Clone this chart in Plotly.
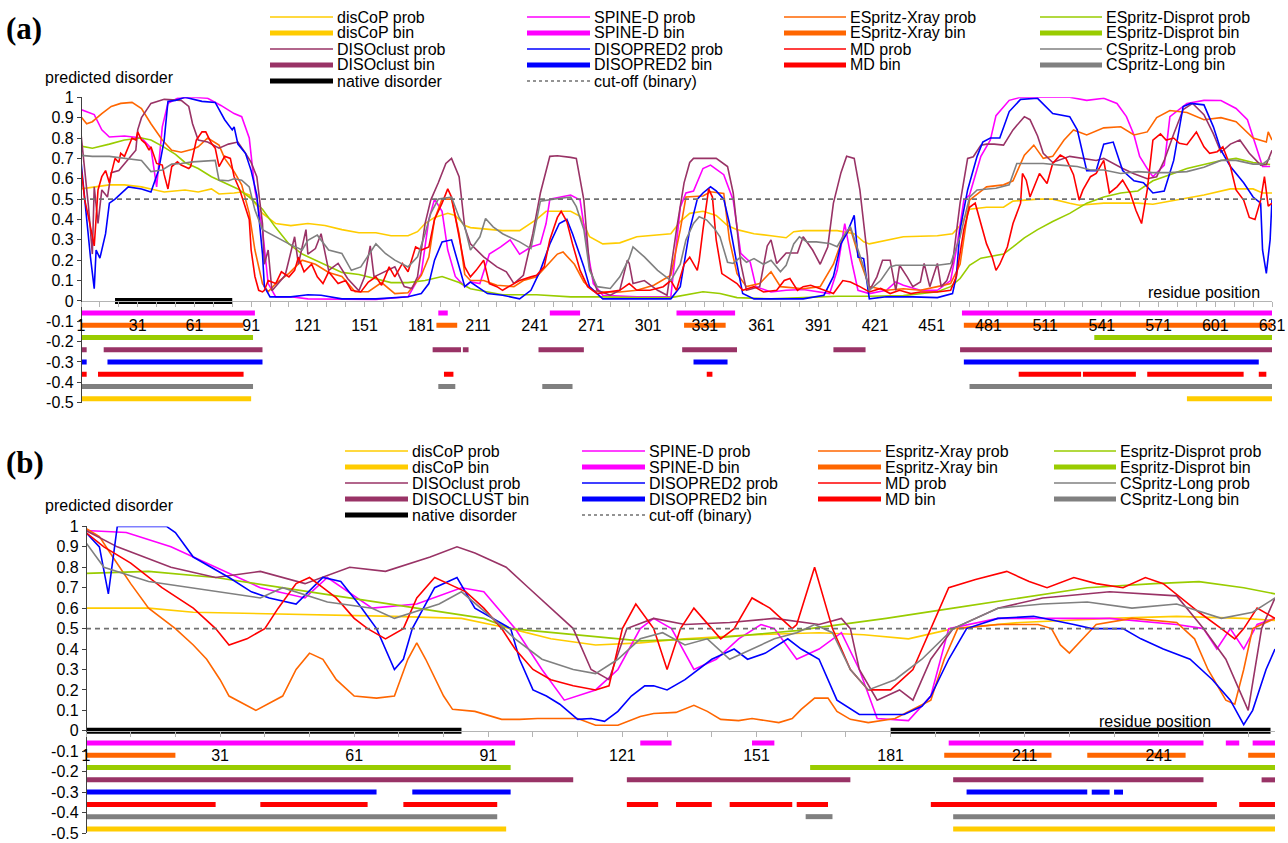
import plotly.graph_objects as go

W, H = 1288, 843
FONT = "Liberation Sans, Arial, sans-serif"

# ---------------- Panel (a) probability series ----------------
A_DISCOP_X = [1,16,24,33,38,45,56,63,70,74,82,86,90,97,104,112,121,130,139,148,157,165,174,179,183,188,195,199,204,
              207,224,233,242,247,260,265,270,277,286,295,313,318,323,330,337,343,348,357,366,374,378,383,401,410,415,
              418,436,454,462,466,471,480,489,494,507,515,524,529,542,560,568,577,595,609,621,626,631]
A_DISCOP_Y = [0.55,0.57,0.57,0.56,0.55,0.535,0.545,0.535,0.55,0.525,0.53,0.535,0.52,0.43,0.38,0.37,0.38,0.37,0.35,0.335,0.335,0.32,0.32,0.34,0.38,0.41,0.43,0.42,0.37,
              0.36,0.345,0.345,0.40,0.44,0.44,0.415,0.315,0.28,0.285,0.315,0.33,0.39,0.43,0.44,0.42,0.37,0.35,0.33,0.32,0.31,0.34,0.345,0.345,0.33,0.29,
              0.28,0.315,0.32,0.33,0.37,0.45,0.46,0.46,0.49,0.50,0.50,0.48,0.47,0.48,0.48,0.475,0.49,0.52,0.55,0.55,0.53,0.53]

A_DISPROT_X = [1,7,16,24,33,38,44,51,56,63,70,77,84,90,97,104,111,118,125,132,139,148,157,165,174,183,192,201,
               207,224,242,260,277,295,313,321,330,339,348,366,383,401,
               418,436,454,461,466,471,477,484,489,494,500,507,515,524,533,542,551,560,568,577,586,595,604,612,621,630]
A_DISPROT_Y = [0.76,0.75,0.77,0.79,0.80,0.79,0.76,0.72,0.68,0.65,0.61,0.58,0.55,0.51,0.45,0.36,0.28,0.23,0.20,0.17,0.14,0.13,0.11,0.09,0.09,0.10,0.12,0.09,
               0.06,0.03,0.03,0.02,0.02,0.016,0.016,0.03,0.045,0.036,0.016,0.01,0.016,0.023,
               0.023,0.026,0.045,0.07,0.11,0.175,0.21,0.22,0.23,0.265,0.31,0.35,0.39,0.43,0.48,0.51,0.53,0.54,0.59,0.62,0.65,0.67,0.69,0.70,0.68,0.67]

A_XRAY_X = [1,4,7,12,17,22,28,33,38,44,49,54,60,63,68,74,77,82,86,90,93,97,100,104,111,118,125,132,139,146,153,160,167,174,181,185,188,192,197,201,204,
            207,214,221,230,235,242,247,253,256,262,267,272,277,286,295,304,313,318,321,330,334,341,344,348,353,360,366,371,383,392,399,404,408,413,
            418,427,436,445,454,461,466,471,480,489,494,500,505,510,515,521,526,533,542,551,558,565,570,577,586,595,604,612,621,628,629,631]
A_XRAY_Y = [0.905,0.87,0.88,0.92,0.955,0.97,0.975,0.945,0.87,0.79,0.74,0.73,0.745,0.757,0.80,0.765,0.70,0.635,0.57,0.43,0.25,0.085,0.045,0.085,0.135,0.20,0.18,0.14,0.12,0.045,0.045,0.09,0.036,0.04,0.125,0.215,0.40,0.50,0.50,0.33,0.13,
            0.10,0.10,0.077,0.07,0.10,0.118,0.167,0.23,0.24,0.18,0.093,0.05,0.044,0.044,0.052,0.077,0.126,0.35,0.51,0.515,0.536,0.528,0.30,0.134,0.07,0.085,0.143,0.07,0.06,0.07,0.18,0.31,0.355,0.20,
            0.07,0.052,0.06,0.052,0.07,0.085,0.18,0.495,0.56,0.57,0.59,0.716,0.765,0.70,0.71,0.79,0.84,0.815,0.85,0.855,0.815,0.83,0.90,0.935,0.925,0.89,0.90,0.88,0.80,0.78,0.83,0.79]

A_SPINED_X = [1,8,12,16,24,33,38,41,44,47,52,60,68,75,82,86,90,93,97,100,104,112,121,139,157,174,181,185,188,192,195,199,204,
              207,212,217,223,228,233,239,244,247,249,260,265,269,272,277,295,313,318,321,325,330,334,341,346,350,355,358,366,374,383,397,401,405,409,412,
              418,427,432,436,445,454,461,464,468,471,477,482,485,492,498,507,524,533,542,549,554,558,561,565,568,574,577,586,595,604,612,618,623,626,630]
A_SPINED_Y = [0.94,0.915,0.84,0.805,0.81,0.80,0.75,0.56,0.855,0.97,0.995,1.0,0.995,0.96,0.92,0.905,0.80,0.545,0.35,0.085,0.02,0.02,0.01,0.007,0.007,0.02,0.135,0.40,0.50,0.44,0.25,0.12,0.07,
              0.093,0.085,0.23,0.265,0.30,0.23,0.265,0.28,0.38,0.50,0.52,0.495,0.25,0.085,0.028,0.02,0.02,0.46,0.53,0.54,0.65,0.667,0.62,0.495,0.233,0.19,0.07,0.044,0.052,0.056,0.036,0.15,0.38,0.18,0.052,
              0.036,0.052,0.093,0.077,0.052,0.052,0.10,0.25,0.495,0.52,0.71,0.79,0.91,0.985,1.0,1.0,1.0,0.985,0.995,0.97,0.905,0.815,0.71,0.65,0.61,0.667,0.905,0.97,0.985,0.984,0.945,0.89,0.75,0.66,0.66]

A_DISOCLUST_X = [1,3,5,7,8,10,12,15,17,21,24,30,31,33,38,45,54,58,60,63,68,74,79,84,88,91,94,97,98,100,102,105,109,114,116,120,121,125,128,132,137,142,148,151,154,156,162,167,172,176,179,183,186,190,194,197,201,204,
                 207,214,221,226,230,235,240,244,249,253,260,263,267,270,274,281,286,290,291,293,299,306,311,316,320,323,325,337,343,346,350,353,360,364,366,369,374,380,383,388,392,396,399,403,406,410,413,417,
                 418,422,425,429,432,434,438,441,445,447,450,454,456,459,462,466,470,473,477,480,484,489,494,500,503,507,510,515,524,531,538,542,547,552,558,565,570,574,579,584,589,595,600,604,609,614,619,625,628,631]
A_DISOCLUST_Y = [0.82,0.63,0.46,0.23,0.56,0.38,0.545,0.51,0.63,0.64,0.675,0.74,0.84,0.90,0.97,0.99,0.985,0.955,0.87,0.79,0.78,0.75,0.77,0.78,0.725,0.68,0.61,0.38,0.18,0.25,0.05,0.085,0.126,0.315,0.18,0.35,0.23,0.257,0.33,0.15,0.184,0.11,0.05,0.118,0.27,0.118,0.143,0.167,0.07,0.061,0.118,0.38,0.495,0.58,0.675,0.70,0.61,0.36,
                 0.28,0.216,0.167,0.143,0.085,0.126,0.33,0.53,0.71,0.713,0.705,0.70,0.495,0.167,0.052,0.028,0.052,0.20,0.184,0.085,0.10,0.052,0.028,0.35,0.58,0.68,0.70,0.70,0.66,0.53,0.184,0.052,0.07,0.27,0.30,0.184,0.235,0.235,0.315,0.25,0.18,0.265,0.48,0.63,0.71,0.70,0.545,0.22,
                 0.05,0.118,0.20,0.20,0.052,0.175,0.118,0.07,0.093,0.184,0.07,0.184,0.07,0.10,0.184,0.48,0.70,0.708,0.765,0.77,0.77,0.765,0.84,0.905,0.89,0.81,0.725,0.68,0.71,0.70,0.69,0.70,0.675,0.65,0.625,0.60,0.61,0.69,0.82,0.94,0.97,0.915,0.82,0.73,0.77,0.79,0.725,0.667,0.67,0.74]

A_DISOPRED_X = [1,3,6,8,9,11,14,16,19,26,33,38,42,45,47,51,56,65,72,77,81,82,84,88,91,94,97,98,101,112,121,128,139,157,174,181,185,188,192,197,201,204,
                207,216,224,233,239,244,249,254,258,261,267,270,277,313,318,323,327,330,334,337,341,344,348,351,357,383,394,399,403,406,410,412,415,
                418,427,441,454,462,464,466,470,475,478,482,487,492,498,507,515,524,528,533,538,542,547,552,558,563,568,574,579,584,588,595,600,604,609,616,621,625,626,628,630,631]
A_DISOPRED_Y = [0.685,0.495,0.215,0.06,0.25,0.21,0.33,0.48,0.50,0.56,0.55,0.535,0.64,0.79,0.98,0.985,1.0,0.98,0.975,0.89,0.84,0.855,0.77,0.725,0.64,0.52,0.23,0.07,0.02,0.02,0.03,0.028,0.01,0.01,0.02,0.036,0.085,0.20,0.29,0.30,0.167,0.07,
                0.093,0.036,0.028,0.01,0.052,0.15,0.28,0.38,0.40,0.33,0.167,0.07,0.01,0.01,0.07,0.35,0.50,0.53,0.56,0.54,0.50,0.38,0.18,0.036,0.01,0.01,0.028,0.12,0.28,0.33,0.42,0.215,0.208,
                0.01,0.02,0.02,0.016,0.036,0.12,0.35,0.545,0.71,0.78,0.80,0.80,0.93,0.99,0.995,0.92,0.905,0.84,0.64,0.64,0.77,0.78,0.64,0.59,0.58,0.53,0.54,0.69,0.955,0.97,0.963,0.855,0.74,0.66,0.58,0.51,0.48,0.25,0.135,0.30,0.50]

A_MD_X = [1,3,5,7,8,10,12,14,16,17,19,21,22,24,26,28,30,31,33,35,37,38,41,44,45,47,49,52,54,58,59,62,65,67,70,72,74,77,80,82,85,88,90,91,93,95,97,98,100,104,107,111,114,116,119,123,126,129,132,137,141,144,149,153,157,160,164,167,171,174,178,181,185,188,192,195,197,201,204,
          207,210,214,217,221,224,230,233,239,242,246,249,253,255,258,261,265,269,274,286,291,295,302,309,313,316,320,323,327,328,330,333,335,337,340,344,348,351,357,362,369,373,376,380,383,387,394,399,404,408,413,417,
          418,424,429,434,440,445,454,461,464,468,471,474,477,480,483,485,487,491,494,498,499,501,503,505,508,512,515,519,522,526,529,531,535,538,542,545,549,552,556,559,562,565,568,572,575,579,582,586,591,595,598,602,605,609,612,616,619,622,625,627,629,631]
A_MD_Y = [0.66,0.495,0.41,0.315,0.27,0.545,0.61,0.64,0.58,0.625,0.70,0.68,0.725,0.71,0.757,0.80,0.79,0.83,0.79,0.774,0.74,0.757,0.675,0.667,0.62,0.55,0.66,0.683,0.667,0.65,0.66,0.79,0.83,0.83,0.774,0.75,0.66,0.71,0.70,0.61,0.545,0.46,0.40,0.25,0.12,0.052,0.044,0.052,0.10,0.085,0.143,0.118,0.15,0.215,0.143,0.18,0.118,0.085,0.143,0.085,0.10,0.052,0.044,0.093,0.118,0.077,0.167,0.118,0.184,0.143,0.265,0.25,0.265,0.40,0.48,0.55,0.51,0.315,0.167,
          0.118,0.15,0.20,0.085,0.07,0.052,0.085,0.10,0.118,0.126,0.167,0.30,0.41,0.44,0.39,0.28,0.15,0.07,0.036,0.052,0.085,0.052,0.052,0.07,0.10,0.052,0.18,0.215,0.15,0.20,0.35,0.55,0.51,0.30,0.134,0.11,0.085,0.052,0.07,0.044,0.052,0.10,0.11,0.052,0.07,0.077,0.052,0.036,0.10,0.093,0.07,0.052,
          0.044,0.061,0.036,0.052,0.036,0.044,0.044,0.052,0.118,0.35,0.46,0.48,0.38,0.28,0.215,0.15,0.18,0.265,0.38,0.48,0.626,0.593,0.51,0.56,0.626,0.577,0.675,0.716,0.70,0.62,0.495,0.545,0.61,0.626,0.69,0.53,0.56,0.593,0.53,0.445,0.38,0.545,0.79,0.82,0.79,0.80,0.774,0.767,0.83,0.757,0.725,0.733,0.757,0.66,0.545,0.495,0.41,0.40,0.495,0.61,0.465,0.48]

A_CSPRITZ_X = [1,7,16,24,33,38,44,49,54,60,68,72,74,79,82,86,90,93,97,104,111,118,121,126,132,139,144,149,157,162,167,174,179,183,186,190,197,201,204,
               207,212,215,219,224,233,239,244,251,260,263,267,270,274,281,286,291,293,299,306,313,318,321,325,328,332,336,339,343,346,350,353,357,362,366,371,374,378,381,385,390,397,401,404,408,411,415,
               418,424,429,432,441,454,461,466,471,475,485,492,496,501,510,519,528,535,542,551,560,568,577,586,595,604,612,621,626,630]
A_CSPRITZ_Y = [0.715,0.71,0.71,0.70,0.69,0.635,0.643,0.672,0.675,0.683,0.69,0.69,0.593,0.59,0.60,0.593,0.56,0.446,0.35,0.315,0.28,0.25,0.298,0.323,0.25,0.233,0.15,0.167,0.28,0.233,0.20,0.167,0.216,0.33,0.43,0.50,0.51,0.41,0.364,
               0.25,0.315,0.405,0.364,0.33,0.29,0.257,0.49,0.50,0.51,0.463,0.35,0.15,0.07,0.061,0.118,0.21,0.265,0.216,0.15,0.10,0.18,0.30,0.38,0.413,0.397,0.356,0.315,0.19,0.184,0.216,0.19,0.208,0.18,0.20,0.143,0.175,0.28,0.315,0.29,0.29,0.282,0.266,0.315,0.364,0.28,0.167,
               0.052,0.10,0.167,0.175,0.175,0.175,0.184,0.315,0.51,0.545,0.553,0.57,0.675,0.675,0.675,0.667,0.66,0.643,0.643,0.626,0.635,0.63,0.63,0.635,0.656,0.69,0.69,0.672,0.672,0.70]

# ---------------- Panel (b) probability series ----------------
B_DISCOP_X = [1,15,25,50,70,85,96,105,115,125,135,150,165,175,185,195,210,230,245,260,267]
B_DISCOP_Y = [0.60,0.60,0.58,0.57,0.56,0.55,0.50,0.45,0.42,0.43,0.45,0.47,0.48,0.47,0.45,0.50,0.53,0.55,0.56,0.55,0.54]
B_DISPROT_X = [1,15,30,45,60,75,90,96,110,125,140,150,160,163,180,195,210,225,240,250,260,267]
B_DISPROT_Y = [0.77,0.78,0.75,0.70,0.65,0.60,0.55,0.50,0.47,0.44,0.45,0.47,0.49,0.50,0.55,0.60,0.65,0.70,0.72,0.73,0.70,0.67]
B_XRAY_X = [1,4,7,11,15,21,25,28,31,33,39,45,48,51,54,57,61,66,70,73,75,77,81,83,88,94,98,102,111,115,120,125,128,133,137,140,143,147,150,154,156,159,161,164,167,169,172,176,182,190,193,196,205,214,217,219,221,224,227,235,245,249,252,256,258,260,262,267]
B_XRAY_Y = [0.99,0.95,0.85,0.72,0.60,0.50,0.42,0.35,0.25,0.17,0.10,0.17,0.30,0.38,0.35,0.25,0.17,0.16,0.17,0.35,0.43,0.35,0.17,0.105,0.095,0.056,0.056,0.06,0.06,0.027,0.027,0.07,0.085,0.09,0.125,0.095,0.056,0.05,0.06,0.046,0.04,0.06,0.105,0.16,0.16,0.095,0.056,0.04,0.06,0.15,0.35,0.50,0.52,0.52,0.50,0.42,0.38,0.45,0.52,0.55,0.53,0.45,0.30,0.15,0.13,0.30,0.50,0.55]
B_SPINED_X = [1,10,20,30,40,50,55,65,75,85,90,97,103,108,115,120,125,128,132,137,142,147,152,155,160,165,170,174,178,185,190,194,205,230,245,251,254,257,260,263,267]
B_SPINED_Y = [0.98,0.97,0.90,0.80,0.70,0.65,0.75,0.60,0.62,0.70,0.68,0.50,0.30,0.15,0.20,0.30,0.50,0.55,0.50,0.30,0.35,0.45,0.52,0.50,0.35,0.40,0.48,0.30,0.06,0.05,0.17,0.50,0.55,0.55,0.52,0.50,0.40,0.50,0.40,0.52,0.55]
B_DISOPRED_X = [1,4,6,8,19,21,25,33,38,42,48,54,58,62,66,67,70,72,74,79,84,88,92,96,98,101,104,107,111,114,117,120,123,126,128,131,135,138,141,146,149,153,158,161,165,169,174,179,184,188,190,194,198,205,213,222,226,230,233,237,242,248,253,257,260,262,265,267]
B_DISOPRED_Y = [0.97,0.90,0.67,1.0,1.0,0.97,0.85,0.75,0.68,0.65,0.62,0.75,0.73,0.62,0.50,0.45,0.30,0.35,0.50,0.70,0.75,0.60,0.55,0.50,0.35,0.20,0.17,0.13,0.056,0.06,0.046,0.095,0.17,0.22,0.22,0.20,0.25,0.30,0.35,0.40,0.35,0.38,0.45,0.40,0.35,0.15,0.08,0.08,0.08,0.12,0.17,0.35,0.50,0.55,0.56,0.52,0.50,0.50,0.50,0.45,0.40,0.35,0.25,0.15,0.03,0.10,0.30,0.40]
B_DISOCLUST_X = [1,8,20,30,40,50,60,68,78,84,88,95,100,105,110,114,118,122,128,135,145,155,165,170,172,174,178,183,186,190,195,205,215,230,245,251,256,261,264,267]
B_DISOCLUST_Y = [0.98,0.90,0.80,0.75,0.78,0.72,0.80,0.78,0.85,0.90,0.87,0.80,0.70,0.60,0.50,0.30,0.25,0.50,0.55,0.52,0.53,0.55,0.52,0.55,0.50,0.30,0.15,0.20,0.15,0.35,0.50,0.60,0.65,0.68,0.66,0.50,0.35,0.10,0.50,0.65]
B_MD_X = [1,5,11,18,25,30,33,37,41,44,48,51,54,57,61,64,68,72,75,79,82,86,90,94,97,101,105,110,115,118,121,124,128,131,134,137,141,143,146,150,154,159,160,164,168,172,176,181,186,190,194,200,207,212,216,222,227,233,238,242,246,250,255,258,260,263,267]
B_MD_Y = [0.97,0.90,0.82,0.70,0.60,0.50,0.42,0.45,0.50,0.60,0.72,0.75,0.70,0.65,0.55,0.50,0.45,0.50,0.65,0.75,0.72,0.68,0.60,0.50,0.40,0.30,0.25,0.22,0.20,0.22,0.50,0.62,0.50,0.30,0.50,0.60,0.50,0.45,0.50,0.65,0.60,0.50,0.52,0.80,0.50,0.30,0.20,0.20,0.30,0.50,0.70,0.74,0.78,0.73,0.70,0.75,0.72,0.70,0.75,0.72,0.65,0.58,0.50,0.45,0.50,0.60,0.55]
B_CSPRITZ_X = [1,5,15,30,40,45,55,65,70,80,85,92,97,103,110,115,120,125,130,135,140,145,150,155,160,164,168,172,176,182,188,195,205,215,225,235,245,255,262,267]
B_CSPRITZ_Y = [0.92,0.80,0.73,0.68,0.65,0.70,0.63,0.60,0.55,0.62,0.68,0.55,0.45,0.35,0.30,0.28,0.35,0.45,0.48,0.42,0.45,0.35,0.40,0.45,0.48,0.52,0.48,0.30,0.20,0.25,0.35,0.50,0.60,0.62,0.63,0.60,0.62,0.55,0.58,0.65]

# ---------------- binary predictions (start, end residue) ----------------
A_NATIVE = [(19, 81)]
A_SPINED_BIN = [(1, 93), (190, 195), (249, 265), (316, 347), (467, 631)]
A_XRAY_BIN = [(1, 87), (189, 200), (320, 342), (468, 631)]
A_DISPROT_BIN = [(1, 92), (537, 631)]
A_DISOCLUST_BIN = [(1, 4), (13, 97), (187, 202), (203, 206), (243, 267), (319, 348), (399, 416), (466, 631)]
A_DISOPRED_BIN = [(1, 4), (15, 97), (325, 343), (468, 624)]
A_MD_BIN = [(1, 4), (10, 87), (193, 198), (332, 335), (497, 530), (531, 559), (565, 616), (624, 628)]
A_CSPRITZ_BIN = [(1, 92), (190, 199), (245, 261), (471, 631)]
A_DISCOP_BIN = [(1, 91), (586, 631)]

B_NATIVE = [(1, 85), (181, 266)]
B_SPINED_BIN = [(1, 97), (125, 132), (150, 155), (194, 251), (256, 259), (262, 267)]
B_XRAY_BIN = [(1, 21), (193, 217), (225, 247), (261, 267)]
B_DISPROT_BIN = [(1, 96), (163, 267)]
B_DISOCLUST_BIN = [(1, 110), (122, 172), (195, 251), (264, 267)]
B_DISOPRED_BIN = [(1, 66), (74, 96), (198, 225), (226, 230), (231, 233)]
B_MD_BIN = [(1, 30), (40, 64), (72, 93), (122, 129), (133, 141), (145, 159), (160, 167), (190, 254), (259, 267)]
B_CSPRITZ_BIN = [(1, 93), (162, 168), (195, 267)]
B_DISCOP_BIN = [(1, 95), (195, 267)]

# offsets at which each binary prediction is drawn
BIN_LEVELS = {"native": 0.0, "spined": -0.06, "xray": -0.12, "disprot": -0.18, "disoclust": -0.24,
              "disopred": -0.30, "md": -0.36, "cspritz": -0.42, "discop": -0.48}
CUTOFF = 0.5

A_LENGTH = 631
B_LENGTH = 267
Y_TICKS = [-0.5, -0.4, -0.3, -0.2, -0.1, 0, 0.1, 0.2, 0.3, 0.4, 0.5, 0.6, 0.7, 0.8, 0.9, 1]
Y_TICK_TEXT = ["-0.5", "-0.4", "-0.3", "-0.2", "-0.1", "0", "0.1", "0.2", "0.3", "0.4", "0.5", "0.6", "0.7", "0.8", "0.9", "1"]

COL = {"discop": "#FFCC00", "spined": "#FF00FF", "xray": "#FF6600", "disprot": "#99CC00",
       "disoclust": "#993366", "disopred": "#0000FF", "md": "#FF0000", "cspritz": "#808080",
       "native": "#000000", "cutoff": "#707070"}

fig = go.Figure()


def seg_xy(segs, level):
    xs, ys = [], []
    for s, e in segs:
        xs += [s, e, None]
        ys += [level, level, None]
    return xs, ys


def add_prob(x, y, key, ax):
    fig.add_trace(go.Scatter(x=x, y=y, mode="lines", line=dict(color=COL[key], width=1.6),
                             xaxis=ax[0], yaxis=ax[1], showlegend=False, hoverinfo="skip"))


def add_bin(segs, key, ax, width=5):
    xs, ys = seg_xy(segs, BIN_LEVELS[key])
    fig.add_trace(go.Scatter(x=xs, y=ys, mode="lines", line=dict(color=COL[key], width=width),
                             xaxis=ax[0], yaxis=ax[1], showlegend=False, hoverinfo="skip"))


def add_panel(ax, length, probs, bins, native):
    for key in ["discop", "spined", "xray", "disprot"]:
        add_prob(probs[key][0], probs[key][1], key, ax)
    for key in ["discop", "spined", "xray", "disprot"]:
        add_bin(bins[key], key, ax)
    for key in ["disoclust", "disopred", "md", "cspritz"]:
        add_prob(probs[key][0], probs[key][1], key, ax)
    for key in ["disoclust", "disopred", "md", "cspritz"]:
        add_bin(bins[key], key, ax)
    add_bin(native, "native", ax, width=6)
    fig.add_trace(go.Scatter(x=[1, length], y=[CUTOFF, CUTOFF], mode="lines",
                             line=dict(color=COL["cutoff"], width=1.8, dash="5px,4px"),
                             xaxis=ax[0], yaxis=ax[1], showlegend=False, hoverinfo="skip"))


add_panel(("x", "y"), A_LENGTH,
          {"discop": (A_DISCOP_X, A_DISCOP_Y), "spined": (A_SPINED_X, A_SPINED_Y), "xray": (A_XRAY_X, A_XRAY_Y),
           "disprot": (A_DISPROT_X, A_DISPROT_Y), "disoclust": (A_DISOCLUST_X, A_DISOCLUST_Y),
           "disopred": (A_DISOPRED_X, A_DISOPRED_Y), "md": (A_MD_X, A_MD_Y), "cspritz": (A_CSPRITZ_X, A_CSPRITZ_Y)},
          {"discop": A_DISCOP_BIN, "spined": A_SPINED_BIN, "xray": A_XRAY_BIN, "disprot": A_DISPROT_BIN,
           "disoclust": A_DISOCLUST_BIN, "disopred": A_DISOPRED_BIN, "md": A_MD_BIN, "cspritz": A_CSPRITZ_BIN},
          A_NATIVE)
add_panel(("x2", "y2"), B_LENGTH,
          {"discop": (B_DISCOP_X, B_DISCOP_Y), "spined": (B_SPINED_X, B_SPINED_Y), "xray": (B_XRAY_X, B_XRAY_Y),
           "disprot": (B_DISPROT_X, B_DISPROT_Y), "disoclust": (B_DISOCLUST_X, B_DISOCLUST_Y),
           "disopred": (B_DISOPRED_X, B_DISOPRED_Y), "md": (B_MD_X, B_MD_Y), "cspritz": (B_CSPRITZ_X, B_CSPRITZ_Y)},
          {"discop": B_DISCOP_BIN, "spined": B_SPINED_BIN, "xray": B_XRAY_BIN, "disprot": B_DISPROT_BIN,
           "disoclust": B_DISOCLUST_BIN, "disopred": B_DISOPRED_BIN, "md": B_MD_BIN, "cspritz": B_CSPRITZ_BIN},
          B_NATIVE)


def px(x):
    return x / W


def py(y):
    return 1 - y / H


def xaxis_cfg(x0, x1, length, zero_py):
    return dict(domain=[px(x0), px(x1)], range=[1, length], anchor="free", position=py(zero_py),
                showline=True, linecolor="#B4B4B4", linewidth=1.2, showgrid=False, zeroline=False,
                ticks="outside", ticklen=5, tickcolor="#B4B4B4", tick0=1, dtick=30, automargin=False,
                ticklabeloverflow="allow",
                minor=dict(ticks="outside", ticklen=5, tickcolor="#B4B4B4", tick0=1, dtick=10, showgrid=False),
                tickfont=dict(family=FONT, size=16, color="#000"), ticklabelstandoff=5, fixedrange=True)


def yaxis_cfg(ytop, ybot, xanchor):
    return dict(domain=[py(ybot), py(ytop)], range=[-0.5, 1], anchor="free", position=px(xanchor),
                showline=True, linecolor="#404040", linewidth=1.2, showgrid=False, zeroline=False,
                ticks="outside", ticklen=4, tickcolor="#404040", tickvals=Y_TICKS, ticktext=Y_TICK_TEXT,
                automargin=False, ticklabeloverflow="allow",
                tickfont=dict(family=FONT, size=16, color="#000"), fixedrange=True)


fig.update_layout(
    width=W, height=H, autosize=False, margin=dict(l=0, r=0, t=0, b=0, pad=0),
    paper_bgcolor="white", plot_bgcolor="rgba(0,0,0,0)", showlegend=False,
    xaxis=xaxis_cfg(81, 1272, A_LENGTH, 300.7),
    yaxis=yaxis_cfg(97.3, 402.7, 81),
    xaxis2=xaxis_cfg(86, 1275, B_LENGTH, 730.8),
    yaxis2=yaxis_cfg(526.4, 833.0, 86),
)

# ---------------- custom legends ----------------
A_LEGEND_LABELS = [
    ["disCoP prob", "disCoP bin", "DISOclust prob", "DISOclust bin", "native disorder"],
    ["SPINE-D prob", "SPINE-D bin", "DISOPRED2 prob", "DISOPRED2 bin", "cut-off (binary)"],
    ["ESpritz-Xray prob", "ESpritz-Xray bin", "MD prob", "MD bin"],
    ["ESpritz-Disprot prob", "ESpritz-Disprot bin", "CSpritz-Long prob", "CSpritz-Long bin"],
]
B_LEGEND_LABELS = [
    ["disCoP prob", "disCoP bin", "DISOclust prob", "DISOCLUST bin", "native disorder"],
    ["SPINE-D prob", "SPINE-D bin", "DISOPRED2 prob", "DISOPRED2 bin", "cut-off (binary)"],
    ["Espritz-Xray prob", "Espritz-Xray bin", "MD prob", "MD bin"],
    ["Espritz-Disprot prob", "Espritz-Disprot bin", "CSpritz-Long prob", "CSpritz-Long bin"],
]
LEGEND_KEYS = [
    [("discop", "p"), ("discop", "b"), ("disoclust", "p"), ("disoclust", "b"), ("native", "b")],
    [("spined", "p"), ("spined", "b"), ("disopred", "p"), ("disopred", "b"), ("cutoff", "d")],
    [("xray", "p"), ("xray", "b"), ("md", "p"), ("md", "b")],
    [("disprot", "p"), ("disprot", "b"), ("cspritz", "p"), ("cspritz", "b")],
]


def draw_legend(labels, cols, rows):
    for ci, col in enumerate(labels):
        lx0, lx1, tx = cols[ci]
        for ri, lab in enumerate(col):
            key, kind = LEGEND_KEYS[ci][ri]
            yy = rows[ri]
            if kind == "p":
                line = dict(color=COL[key], width=1.6)
            elif kind == "b":
                line = dict(color=COL[key], width=5)
            else:
                line = dict(color=COL[key], width=1.5, dash="3px,3px")
            fig.add_shape(type="line", xref="paper", yref="paper", x0=px(lx0), x1=px(lx1),
                          y0=py(yy), y1=py(yy), line=line)
            fig.add_annotation(x=px(tx), y=py(yy), xref="paper", yref="paper", text=lab, showarrow=False,
                               xanchor="left", yanchor="middle", font=dict(family=FONT, size=16, color="#000"))


draw_legend(A_LEGEND_LABELS, [(270, 333, 335), (527, 590, 592), (784, 846, 848), (1040, 1102, 1104)],
            [17, 33, 49, 65, 81])
draw_legend(B_LEGEND_LABELS, [(345, 408, 410), (582, 645, 647), (818, 881, 883), (1054, 1116, 1118)],
            [451, 467, 483, 499, 515])


def label(x, y, text, size=16, anchor="left", family=FONT, bold=False):
    fig.add_annotation(x=px(x), y=py(y), xref="paper", yref="paper", text=("<b>%s</b>" % text) if bold else text,
                       showarrow=False, xanchor=anchor, yanchor="middle",
                       font=dict(family=family, size=size, color="#000"))


label(4, 28, "(a)", size=31, family="Liberation Serif, Times New Roman, serif", bold=True)
label(4, 462, "(b)", size=31, family="Liberation Serif, Times New Roman, serif", bold=True)
label(43, 77, "predicted disorder")
label(43, 506, "predicted disorder")
label(1146, 292, "residue position")
label(1097, 721, "residue position")

fig.write_html("out.html")
